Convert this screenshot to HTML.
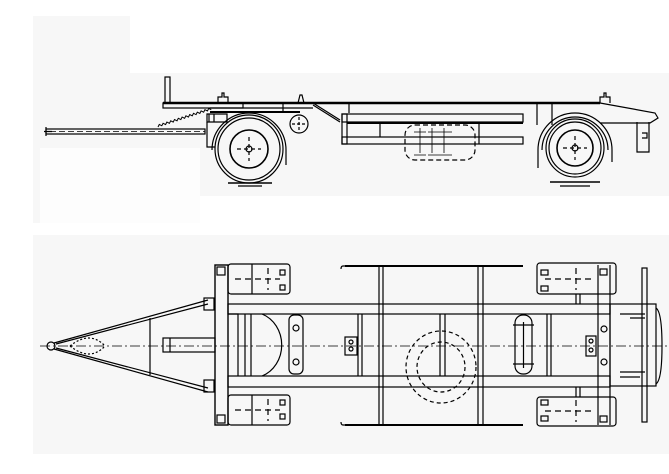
<!DOCTYPE html>
<html><head><style>html,body{margin:0;padding:0;background:#fff;width:669px;height:474px;overflow:hidden}svg{display:block}</style></head>
<body>
<svg width="669" height="474" viewBox="0 0 669 474" xmlns="http://www.w3.org/2000/svg" fill="none" stroke="#000" stroke-width="1.2">
<rect x="33" y="16" width="636" height="438" fill="#f7f7f7" stroke="none"/>
<rect x="130" y="0" width="539" height="73" fill="#fff" stroke="none"/>
<rect x="40" y="148" width="160" height="75" fill="#fdfdfd" stroke="none"/>
<rect x="200" y="196" width="469" height="39" fill="#fff" stroke="none"/>
<rect x="33" y="223" width="167" height="12" fill="#fff" stroke="none"/>

<!-- SIDE VIEW -->
<rect x="165" y="77" width="5" height="26"/>
<line x1="163" y1="103" x2="600" y2="103" stroke-width="2.5"/>
<rect x="163" y="103" width="80" height="5"/>
<path d="M600 103 L655 113 L658 118 L650 123 L600 123"/>
<line x1="210" y1="108" x2="313" y2="108"/>
<path d="M313 103 L340 120"/>
<line x1="313" y1="105" x2="340" y2="122"/>
<line x1="210" y1="112" x2="300" y2="112" stroke-width="2"/>
<line x1="283" y1="103" x2="283" y2="113"/>
<line x1="349" y1="103" x2="349" y2="113"/>
<line x1="537" y1="103" x2="537" y2="125"/><line x1="552" y1="103" x2="552" y2="125"/>
<path d="M218 103 v-6 h4 v-4 h2 v4 h4 v6"/><path d="M298 103 l2 -8 h2 l2 8"/><path d="M600 103 v-6 h4 v-4 h2 v4 h4 v6"/>
<!-- drawbar -->
<rect x="46" y="129" width="159" height="5"/>
<line x1="50" y1="131.5" x2="205" y2="131.5" stroke-dasharray="6 3" stroke-width="0.8"/>
<path d="M46 127 v9 M44 131.5 h8"/>
<g transform="translate(158,127) rotate(-18)">
<path d="M0 0 l2 -2 2 2 2 -2 2 2 2 -2 2 2 2 -2 2 2 2 -2 2 2 2 -2 2 2 2 -2 2 2 2 -2 2 2 2 -2 2 2 2 -2 2 2 2 -2 2 2 2 -2 2 2 2 -2 2 2 2 -2 2 2" stroke-width="1"/>
</g>
<path d="M207 114 h20 v8 h-20 z M209 114 v8 M214 114 v8"/>
<path d="M207 122 v25 h8"/>
<!-- front wheel -->
<circle cx="249" cy="149" r="34"/><circle cx="249" cy="149" r="31"/>
<circle cx="249" cy="149" r="19" stroke-width="1.6"/>
<path d="M237 149 h24 M249 137 v24" stroke-dasharray="4 3"/>
<circle cx="249" cy="149" r="3"/>
<path d="M212 150 A37 37 0 0 1 286 150 M286 150 v15"/>
<line x1="228" y1="183" x2="272" y2="183" stroke-width="1.5"/><line x1="238" y1="186" x2="262" y2="186"/>
<circle cx="299" cy="124" r="9"/><path d="M292 124 h14 M299 117 v14" stroke-dasharray="3 2"/>
<!-- box -->
<rect x="342" y="114" width="181" height="8"/>
<rect x="342" y="137" width="181" height="7"/>
<rect x="342" y="114" width="5" height="30"/>
<line x1="347" y1="123" x2="523" y2="123" stroke-width="2"/>
<line x1="380" y1="123" x2="380" y2="137"/><line x1="479" y1="122" x2="479" y2="144"/>
<g stroke-dasharray="5 3"><rect x="405" y="125" width="70" height="35" rx="10"/></g>
<path d="M420 128 v25 M432 128 v25 M444 128 v25 M414 132 h12 M428 132 h12 M440 132 h12 M414 155 h12 M428 155 h12 M440 155 h12" stroke-width="0.8"/>
<!-- rear wheel -->
<circle cx="575" cy="148" r="29"/><circle cx="575" cy="148" r="26"/>
<circle cx="575" cy="148" r="18" stroke-width="1.6"/>
<path d="M563 148 h24 M575 136 v24" stroke-dasharray="4 3"/>
<circle cx="575" cy="148" r="3"/>
<path d="M538 150 A37 37 0 0 1 612 150 M612 150 v12 M538 150 v18"/>
<path d="M542 150 A33 33 0 0 1 608 150"/>
<line x1="550" y1="182" x2="600" y2="182" stroke-width="1.5"/><line x1="560" y1="186" x2="590" y2="186"/>
<path d="M637 122 v30 h12 v-30 M642 133 h5 v5 h-5"/>

<!-- PLAN VIEW -->
<line x1="40" y1="346" x2="669" y2="346" stroke-dasharray="10 3 2 3" stroke-width="0.8"/>
<circle cx="51" cy="346" r="4"/>
<path d="M54 343 L208 300 M56 348 L208 388 M54 349 L208 392 M56 344 L208 304"/>
<path d="M70 346 Q90 330 105 346 M70 346 Q90 362 105 346" stroke-dasharray="2 2"/>
<line x1="150" y1="318" x2="150" y2="375"/>
<rect x="163" y="338" width="52" height="14"/><line x1="170" y1="338" x2="170" y2="352"/>
<rect x="204" y="298" width="10" height="12"/><rect x="204" y="380" width="10" height="12"/>
<rect x="215" y="265" width="13" height="160" stroke-width="1.4"/>
<rect x="217" y="267" width="8" height="8"/><rect x="217" y="415" width="8" height="8"/>
<rect x="228" y="304" width="382" height="10"/>
<rect x="228" y="376" width="382" height="11"/>
<rect x="228" y="264" width="62" height="30" rx="3"/>
<rect x="228" y="395" width="62" height="30" rx="3"/>
<line x1="252" y1="264" x2="252" y2="294"/><line x1="252" y1="395" x2="252" y2="425"/>
<path d="M235 279 h45 M235 410 h45 M268 268 v22 M268 399 v22" stroke-dasharray="6 4"/>
<rect x="280" y="270" width="5" height="5"/><rect x="280" y="285" width="5" height="5"/><rect x="280" y="400" width="5" height="5"/><rect x="280" y="414" width="5" height="5"/>
<path d="M228 314 h10 v62 M245 314 v62 M251 314 v62"/>
<path d="M262 314 A30 33 0 0 1 262 376"/>
<rect x="289" y="315" width="14" height="59" rx="5"/>
<circle cx="296" cy="328" r="3"/><circle cx="296" cy="362" r="3"/>
<path d="M345 266 h-2 q-2 0 -2 3 M345 425 h-2 q-2 0 -2 -3"/>
<line x1="345" y1="266" x2="523" y2="266" stroke-width="2"/>
<line x1="345" y1="425" x2="523" y2="425" stroke-width="2"/>
<path d="M379 266 v159 M383 266 v159 M478 266 v159 M483 266 v159"/>
<path d="M358 314 v62 M362 314 v62 M440 314 v62 M445 314 v62"/>
<rect x="345" y="337" width="12" height="18"/><circle cx="351" cy="342" r="2"/><circle cx="351" cy="349" r="2"/>
<ellipse cx="441" cy="367" rx="35" ry="36" stroke-dasharray="4 3"/>
<ellipse cx="441" cy="367" rx="24" ry="25" stroke-dasharray="4 3"/>
<rect x="515" y="315" width="17" height="59" rx="8"/><line x1="523.5" y1="322" x2="523.5" y2="368"/>
<path d="M513 325 h21 M513 364 h21"/>
<path d="M547 314 v62 M551 314 v62"/>
<rect x="537" y="263" width="79" height="31" rx="3"/>
<rect x="537" y="397" width="79" height="29" rx="3"/>
<path d="M545 279 h50 M545 411 h50 M576 268 v22 M576 400 v22" stroke-dasharray="6 4"/>
<path d="M598 265 v160 M610 265 v160"/>
<rect x="541" y="270" width="7" height="5"/><rect x="541" y="286" width="7" height="5"/><rect x="541" y="400" width="7" height="5"/><rect x="541" y="416" width="7" height="5"/>
<rect x="600" y="269" width="7" height="6"/><rect x="600" y="416" width="7" height="6"/>
<path d="M576 294 v10 M580 294 v10 M576 387 v10 M580 387 v10"/>
<rect x="586" y="336" width="10" height="20"/><circle cx="591" cy="341" r="2"/><circle cx="591" cy="350" r="2"/>
<circle cx="604" cy="329" r="3"/><circle cx="604" cy="362" r="3"/>
<rect x="610" y="304" width="46" height="82"/>
<path d="M656 308 q6 4 6 38 q0 34 -6 38"/>
<path d="M620 314 h25 M630 318 h15 M620 372 h25 M620 377 h20"/>
<rect x="642" y="268" width="5" height="154" stroke-width="1.2"/>
</svg>
</body></html>
